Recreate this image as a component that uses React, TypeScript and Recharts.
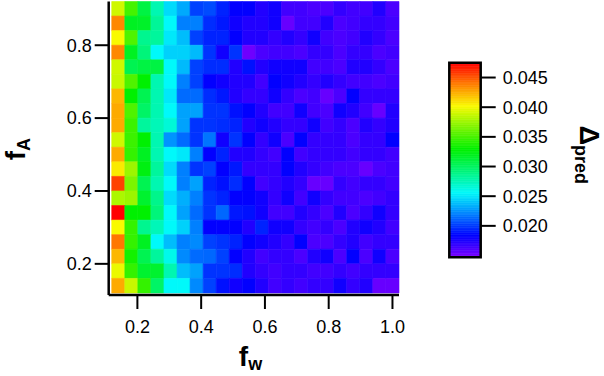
import { ScatterChart, Scatter, XAxis, YAxis, ReferenceArea } from 'recharts';

// f_w column centres (22) and f_A row centres (20, top row first)
const FW = [
  0.1400, 0.1810, 0.2219, 0.2629, 0.3038, 0.3448, 0.3857, 0.4267, 0.4676, 0.5086, 0.5495,
  0.5905, 0.6314, 0.6724, 0.7133, 0.7543, 0.7952, 0.8362, 0.8771, 0.9181, 0.9590, 1.0000,
];
const FA = [0.90, 0.86, 0.82, 0.78, 0.74, 0.70, 0.66, 0.62, 0.58, 0.54, 0.50, 0.46, 0.42, 0.38, 0.34, 0.30, 0.26, 0.22, 0.18, 0.14];

// Δpred, one row per FA entry, one column per FW entry
const DELTA: number[][] = [
  [0.0390, 0.0350, 0.0309, 0.0277, 0.0247, 0.0232, 0.0202, 0.0205, 0.0193, 0.0183, 0.0183, 0.0174, 0.0179, 0.0165, 0.0165, 0.0162, 0.0162, 0.0169, 0.0165, 0.0165, 0.0174, 0.0162],
  [0.0436, 0.0319, 0.0317, 0.0284, 0.0256, 0.0220, 0.0220, 0.0196, 0.0190, 0.0179, 0.0174, 0.0174, 0.0179, 0.0154, 0.0165, 0.0165, 0.0174, 0.0162, 0.0165, 0.0169, 0.0169, 0.0165],
  [0.0402, 0.0353, 0.0287, 0.0283, 0.0251, 0.0238, 0.0202, 0.0193, 0.0193, 0.0183, 0.0174, 0.0174, 0.0169, 0.0174, 0.0169, 0.0179, 0.0165, 0.0162, 0.0165, 0.0174, 0.0169, 0.0162],
  [0.0436, 0.0319, 0.0293, 0.0256, 0.0244, 0.0244, 0.0237, 0.0198, 0.0179, 0.0198, 0.0152, 0.0162, 0.0165, 0.0165, 0.0162, 0.0169, 0.0169, 0.0162, 0.0169, 0.0169, 0.0162, 0.0165],
  [0.0390, 0.0305, 0.0309, 0.0309, 0.0256, 0.0237, 0.0202, 0.0196, 0.0196, 0.0174, 0.0188, 0.0174, 0.0179, 0.0179, 0.0179, 0.0165, 0.0165, 0.0162, 0.0174, 0.0174, 0.0169, 0.0162],
  [0.0388, 0.0353, 0.0329, 0.0277, 0.0256, 0.0220, 0.0202, 0.0183, 0.0179, 0.0174, 0.0174, 0.0165, 0.0183, 0.0179, 0.0174, 0.0169, 0.0174, 0.0169, 0.0165, 0.0165, 0.0162, 0.0165],
  [0.0422, 0.0329, 0.0305, 0.0277, 0.0251, 0.0214, 0.0214, 0.0196, 0.0190, 0.0174, 0.0169, 0.0169, 0.0179, 0.0169, 0.0162, 0.0165, 0.0154, 0.0162, 0.0183, 0.0169, 0.0169, 0.0169],
  [0.0426, 0.0353, 0.0299, 0.0277, 0.0256, 0.0230, 0.0230, 0.0198, 0.0198, 0.0188, 0.0183, 0.0174, 0.0165, 0.0165, 0.0179, 0.0165, 0.0162, 0.0179, 0.0174, 0.0165, 0.0154, 0.0174],
  [0.0426, 0.0347, 0.0283, 0.0275, 0.0266, 0.0230, 0.0198, 0.0198, 0.0196, 0.0193, 0.0174, 0.0179, 0.0174, 0.0169, 0.0169, 0.0179, 0.0165, 0.0169, 0.0162, 0.0174, 0.0169, 0.0174],
  [0.0390, 0.0347, 0.0329, 0.0277, 0.0226, 0.0214, 0.0198, 0.0217, 0.0179, 0.0198, 0.0183, 0.0169, 0.0179, 0.0162, 0.0183, 0.0169, 0.0169, 0.0169, 0.0162, 0.0169, 0.0169, 0.0183],
  [0.0426, 0.0345, 0.0319, 0.0277, 0.0256, 0.0251, 0.0220, 0.0183, 0.0193, 0.0174, 0.0174, 0.0169, 0.0165, 0.0183, 0.0165, 0.0169, 0.0169, 0.0169, 0.0165, 0.0169, 0.0169, 0.0165],
  [0.0407, 0.0375, 0.0324, 0.0283, 0.0247, 0.0220, 0.0198, 0.0202, 0.0183, 0.0190, 0.0169, 0.0169, 0.0169, 0.0183, 0.0174, 0.0169, 0.0165, 0.0162, 0.0162, 0.0154, 0.0162, 0.0165],
  [0.0456, 0.0366, 0.0305, 0.0277, 0.0256, 0.0220, 0.0230, 0.0193, 0.0188, 0.0196, 0.0183, 0.0165, 0.0169, 0.0174, 0.0169, 0.0154, 0.0154, 0.0169, 0.0165, 0.0169, 0.0169, 0.0165],
  [0.0380, 0.0375, 0.0315, 0.0288, 0.0247, 0.0234, 0.0220, 0.0198, 0.0193, 0.0183, 0.0183, 0.0179, 0.0169, 0.0179, 0.0165, 0.0179, 0.0169, 0.0165, 0.0165, 0.0162, 0.0165, 0.0169],
  [0.0475, 0.0329, 0.0329, 0.0293, 0.0256, 0.0230, 0.0214, 0.0198, 0.0213, 0.0190, 0.0188, 0.0179, 0.0165, 0.0165, 0.0174, 0.0169, 0.0162, 0.0174, 0.0162, 0.0169, 0.0179, 0.0169],
  [0.0402, 0.0345, 0.0287, 0.0275, 0.0256, 0.0244, 0.0220, 0.0183, 0.0183, 0.0183, 0.0174, 0.0193, 0.0179, 0.0179, 0.0169, 0.0165, 0.0169, 0.0162, 0.0174, 0.0179, 0.0174, 0.0165],
  [0.0441, 0.0345, 0.0319, 0.0256, 0.0238, 0.0220, 0.0223, 0.0202, 0.0198, 0.0193, 0.0183, 0.0179, 0.0174, 0.0169, 0.0183, 0.0162, 0.0162, 0.0169, 0.0174, 0.0165, 0.0169, 0.0169],
  [0.0422, 0.0335, 0.0305, 0.0283, 0.0261, 0.0223, 0.0214, 0.0213, 0.0202, 0.0183, 0.0174, 0.0165, 0.0169, 0.0169, 0.0162, 0.0174, 0.0179, 0.0162, 0.0183, 0.0162, 0.0179, 0.0162],
  [0.0398, 0.0345, 0.0315, 0.0315, 0.0277, 0.0238, 0.0230, 0.0198, 0.0198, 0.0196, 0.0174, 0.0169, 0.0165, 0.0169, 0.0169, 0.0165, 0.0165, 0.0169, 0.0165, 0.0169, 0.0169, 0.0169],
  [0.0426, 0.0388, 0.0345, 0.0299, 0.0256, 0.0256, 0.0223, 0.0202, 0.0188, 0.0179, 0.0183, 0.0174, 0.0165, 0.0169, 0.0165, 0.0169, 0.0169, 0.0179, 0.0169, 0.0174, 0.0154, 0.0154],
];

const X_TICKS = [0.2, 0.4, 0.6, 0.8, 1.0];
const Y_TICKS = [0.2, 0.4, 0.6, 0.8];
const CB_MIN = 0.0147;
const CB_MAX = 0.0475;
const CB_TICKS = [0.020, 0.025, 0.030, 0.035, 0.040, 0.045];

const FONT = '"Liberation Sans", Arial, Helvetica, sans-serif';

// Igor-like rainbow: purple (low) -> red (high)
function rainbow(v: number) {
  const t = Math.min(1, Math.max(0, (v - CB_MIN) / (CB_MAX - CB_MIN)));
  const h = (1 - t) * 270;
  const bump = Math.max(0, 1 - Math.abs(h - 120) / 90);
  return `hsl(${h.toFixed(1)},100%,${(50 - 3 * bump).toFixed(1)}%)`;
}

const half = (arr: number[], i: number) =>
  Math.abs(i < arr.length - 1 ? arr[i + 1] - arr[i] : arr[i] - arr[i - 1]) / 2;

const cells = FA.flatMap((fa, r) =>
  FW.map((fw, c) => ({
    x: fw,
    y: fa,
    x1: fw - half(FW, c),
    x2: fw + half(FW, c),
    y1: fa - half(FA, r),
    y2: fa + half(FA, r),
    v: DELTA[r][c],
  })),
);

const CB_STEPS = 110;
const cbSlices = Array.from({ length: CB_STEPS }, (_, i) => {
  const lo = CB_MIN + ((CB_MAX - CB_MIN) * i) / CB_STEPS;
  const hi = CB_MIN + ((CB_MAX - CB_MIN) * (i + 1)) / CB_STEPS;
  return { lo, hi, color: rainbow((lo + hi) / 2) };
});

const axisLine = { stroke: '#000', strokeWidth: 2.5 };
const tickLine = { stroke: '#000', strokeWidth: 2 };
const tickStyle = { fill: '#000', fontSize: 18, fontFamily: FONT };

const Nothing = () => <g />;

function XTitle({ viewBox }: any) {
  const x = viewBox.x + viewBox.width / 2 - 15;
  return (
    <text x={x} y={viewBox.y + 71} fontFamily={FONT} fontWeight="bold" fill="#000">
      <tspan fontSize={28}>f</tspan>
      <tspan fontSize={18} dy={4}>w</tspan>
    </text>
  );
}

function YTitle({ viewBox }: any) {
  const x = viewBox.x + 25;
  const y = viewBox.y + viewBox.height / 2 + 12;
  return (
    <text x={x} y={y} transform={`rotate(-90, ${x}, ${y})`} fontFamily={FONT} fontWeight="bold" fill="#000">
      <tspan fontSize={28}>f</tspan>
      <tspan fontSize={18} dy={5}>A</tspan>
    </text>
  );
}

function CbTitle({ viewBox }: any) {
  const x = viewBox.x + 99;
  const y = viewBox.y + 63;
  return (
    <text x={x} y={y} transform={`rotate(90, ${x}, ${y})`} fontFamily={FONT} fontWeight="bold" fill="#000">
      <tspan fontSize={27}>Δ</tspan>
      <tspan fontSize={18} dy={5}>pred</tspan>
    </text>
  );
}

export default function App() {
  return (
    <div style={{ position: 'absolute', left: 0, top: 0, width: 604, height: 376, background: '#fff' }}>
      <div style={{ position: 'absolute', left: 0, top: 0 }}>
        <ScatterChart width={604} height={376} margin={{ top: 1.5, right: 205, bottom: 0, left: 0 }}>
          <XAxis
            type="number"
            dataKey="x"
            domain={[0.11, 1.0205]}
            ticks={X_TICKS}
            tickFormatter={(v: number) => v.toFixed(1)}
            height={81}
            tickSize={14}
            tickMargin={11}
            axisLine={axisLine}
            tickLine={tickLine}
            tick={tickStyle}
            allowDataOverflow
            label={<XTitle />}
          />
          <YAxis
            type="number"
            dataKey="y"
            domain={[0.1145, 0.92]}
            ticks={Y_TICKS}
            tickFormatter={(v: number) => v.toFixed(1)}
            width={108.7}
            tickSize={14}
            tickMargin={3}
            axisLine={axisLine}
            tickLine={tickLine}
            tick={tickStyle}
            allowDataOverflow
            label={<YTitle />}
          />
          {cells.map((c) => {
            const color = rainbow(c.v);
            return (
              <ReferenceArea
                key={`${c.x}-${c.y}`}
                x1={c.x1}
                x2={c.x2}
                y1={c.y1}
                y2={c.y2}
                fill={color}
                fillOpacity={1}
                stroke={color}
                strokeWidth={0.6}
              />
            );
          })}
          <Scatter data={cells} isAnimationActive={false} shape={Nothing} />
        </ScatterChart>
      </div>

      <div style={{ position: 'absolute', left: 440, top: 0 }}>
        <ScatterChart width={164} height={376} margin={{ top: 62.7, right: 0, bottom: 118.7, left: 9.3 }}>
          <XAxis type="number" dataKey="x" domain={[0, 1]} hide />
          <YAxis
            type="number"
            dataKey="y"
            orientation="right"
            domain={[CB_MIN, CB_MAX]}
            ticks={CB_TICKS}
            tickFormatter={(v: number) => v.toFixed(3)}
            width={123.3}
            tickSize={15}
            tickMargin={7}
            axisLine={false}
            tickLine={tickLine}
            tick={tickStyle}
            allowDataOverflow
            label={<CbTitle />}
          />
          {cbSlices.map((s, i) => (
            <ReferenceArea
              key={i}
              x1={0}
              x2={1}
              y1={s.lo}
              y2={s.hi}
              fill={s.color}
              fillOpacity={1}
              stroke={s.color}
              strokeWidth={0.6}
            />
          ))}
          <ReferenceArea x1={0} x2={1} y1={CB_MIN} y2={CB_MAX} fill="none" stroke="#000" strokeWidth={2.5} />
          <Scatter data={[{ x: 0.5, y: CB_MIN }]} isAnimationActive={false} shape={Nothing} />
        </ScatterChart>
      </div>
    </div>
  );
}
